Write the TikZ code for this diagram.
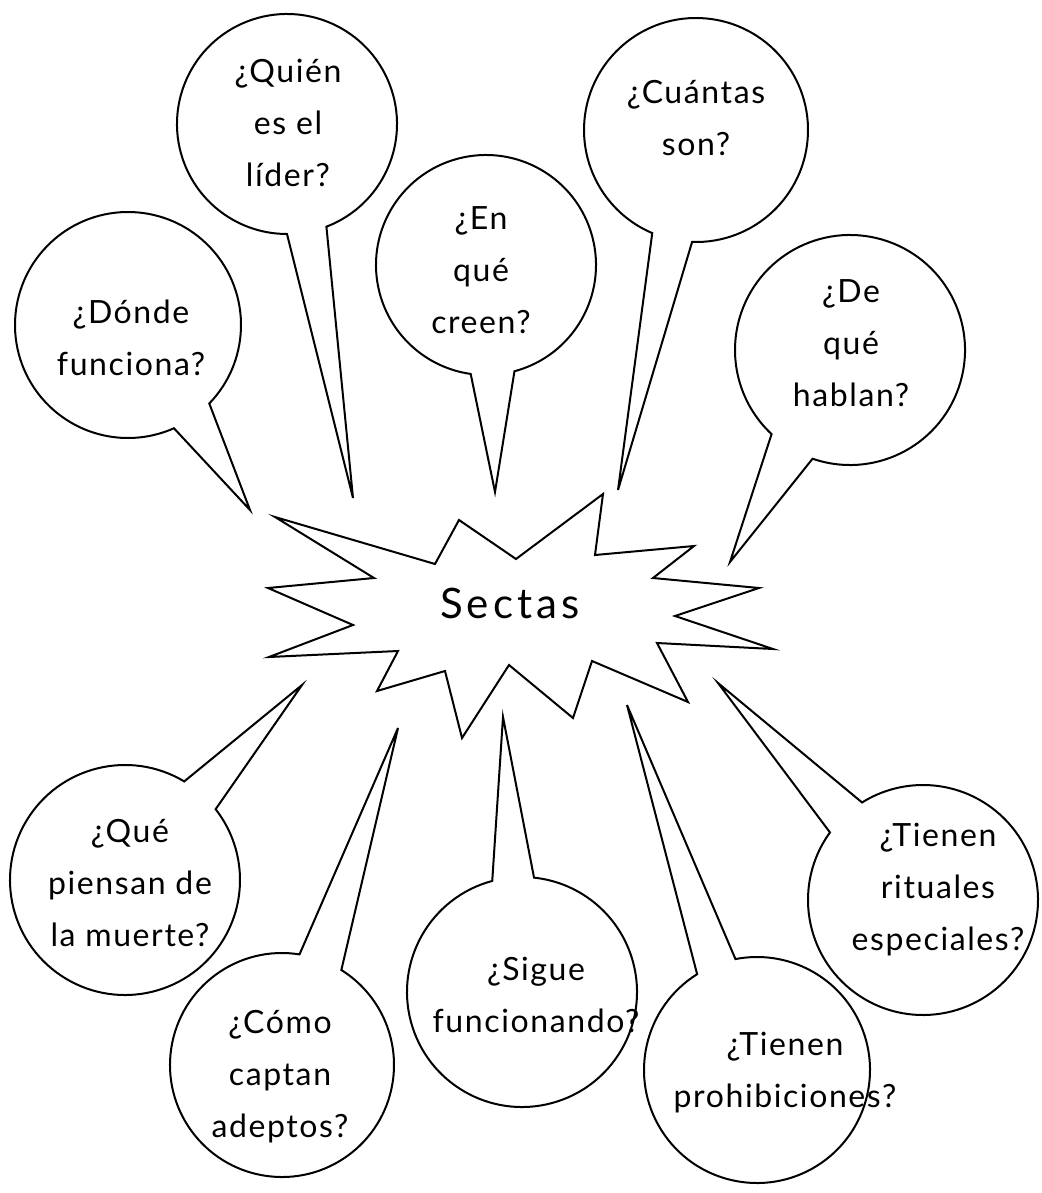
\documentclass[tikz,border=0pt]{standalone}
\usepackage{fontspec}
\setmainfont{Lato}

\begin{document}
\begin{tikzpicture}[x=1pt,y=-1pt,line width=2pt,
  bubble/.style={circle,inner sep=0pt,outer sep=0pt},
  qtext/.style={align=center,inner sep=0pt,font=\fontsize{32}{52}\selectfont\addfontfeatures{LetterSpace=5}}]
\useasboundingbox (0,0) rectangle (1041,1193);

\draw (275,517)--(435,564)--(459,520)--(516,559)--(603,494)--(595,555)--(694,546)--(653,578)--(759,588)--(675,616)--(773,649)--(657,643)--(688,702)--(592,661)--(573,718)--(509,665)--(462,738)--(445,671)--(377,691)--(398,651)--(269,657)--(353,625)--(268,588)--(374,578)--cycle;
\node[inner sep=0pt,font=\fontsize{42}{42}\selectfont\addfontfeatures{LetterSpace=10}] (sectas) at (510,603) {Sectas};

\node[bubble,minimum size=226pt] (donde) at (128,325) {};
\coordinate (dondetip) at (250,510);
\draw (donde.-44) arc[start angle=-44,end angle=294,radius=113pt] -- (dondetip) -- cycle;
\node[qtext] (dondetxt) at (131,338) {¿Dónde\\funciona?};

\node[bubble,minimum size=220pt] (lider) at (287,124) {};
\coordinate (lidertip) at (353,498);
\draw (lider.-69) arc[start angle=-69,end angle=270,radius=110pt] -- (lidertip) -- cycle;
\node[qtext] (lidertxt) at (288,123) {¿Quién\\es el\\líder?};

\node[bubble,minimum size=220pt] (creen) at (486,265) {};
\coordinate (creentip) at (495,492);
\draw (creen.-75) arc[start angle=-75,end angle=262,radius=110pt] -- (creentip) -- cycle;
\node[qtext] (creentxt) at (481,270) {¿En\\qué\\creen?};

\node[bubble,minimum size=224pt] (cuantas) at (696,130) {};
\coordinate (cuantastip) at (618,490);
\draw (cuantas.-92) arc[start angle=-92,end angle=247,radius=112pt] -- (cuantastip) -- cycle;
\node[qtext] (cuantastxt) at (696,118) {¿Cuántas\\son?};

\node[bubble,minimum size=230pt] (hablan) at (850,350) {};
\coordinate (hablantip) at (730,562);
\draw (hablan.-109) arc[start angle=-109,end angle=227,radius=115pt] -- (hablantip) -- cycle;
\node[qtext] (hablantxt) at (851,343) {¿De\\qué\\hablan?};

\node[bubble,minimum size=230pt] (muerte) at (125,880) {};
\coordinate (muertetip) at (302,685);
\draw (muerte.59) arc[start angle=59,end angle=398,radius=115pt] -- (muertetip) -- cycle;
\node[qtext] (muertetxt) at (130,883) {¿Qué\\piensan de\\la muerte?};

\node[bubble,minimum size=224pt] (captan) at (282,1065) {};
\coordinate (captantip) at (398,728);
\draw (captan.81) arc[start angle=81,end angle=418,radius=112pt] -- (captantip) -- cycle;
\node[qtext] (captantxt) at (280,1077) {¿Cómo\\captan\\adeptos?};

\node[bubble,minimum size=230pt] (sigue) at (522,992) {};
\coordinate (siguetip) at (503,717);
\draw (sigue.105) arc[start angle=105,end angle=444,radius=115pt] -- (siguetip) -- cycle;
\node[qtext] (siguetxt) at (536,995) {¿Sigue\\funcionando?};

\node[bubble,minimum size=226pt] (prohib) at (757,1070) {};
\coordinate (prohibtip) at (627,705);
\draw (prohib.122) arc[start angle=122,end angle=461,radius=113pt] -- (prohibtip) -- cycle;
\node[qtext] (prohibtxt) at (785,1073) {¿Tienen\\prohibiciones?};

\node[bubble,minimum size=230pt] (ritual) at (923,900) {};
\coordinate (ritualtip) at (718,683);
\draw (ritual.144) arc[start angle=144,end angle=482,radius=115pt] -- (ritualtip) -- cycle;
\node[qtext] (ritualtxt) at (938,890) {¿Tienen\\rituales\\especiales?};
\end{tikzpicture}
\end{document}
